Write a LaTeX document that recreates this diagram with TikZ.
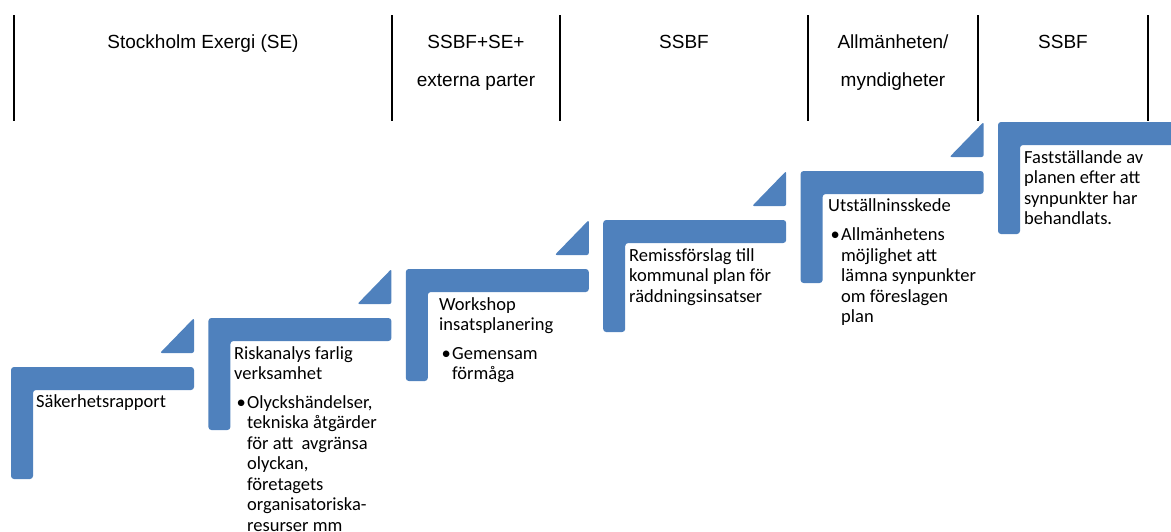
\documentclass[tikz,border=0pt]{standalone}
\usepackage{fontspec}
\setmainfont{Carlito}
\newfontfamily\headfont{Liberation Sans}
\definecolor{stepblue}{HTML}{4F81BD}
\newcommand{\bul}{\makebox[13pt][l]{\hspace{2.5pt}•}}
\newcommand{\ind}{\hspace*{13pt}}

\begin{document}
\begin{tikzpicture}[
    x=1pt, y=-1pt,
    stepbar/.style={fill=stepblue, rounded corners=3pt},
    steptext/.style={anchor=base west, inner sep=0pt, align=left,
        font=\fontsize{18.5}{20.5}\selectfont},
    headtext/.style={anchor=base, inner sep=0pt, align=center,
        font=\headfont\fontsize{19}{38}\selectfont},
    divider/.style={line width=2pt}
]
\useasboundingbox (0,0) rectangle (1171,531);
\clip (0,0) rectangle (1171,531);

\foreach \x in {14,392,560,808,978,1148}
    \draw[divider] (\x,15) -- (\x,121);

\node[headtext] (se) at (203,48.5) {Stockholm Exergi (SE)};
\node[headtext] (ssbfse) at (476,86.5) {SSBF+SE+\\externa parter};
\node[headtext] (ssbfa) at (684,48.5) {SSBF};
\node[headtext] (allm) at (893,86.5) {Allmänheten/\\myndigheter};
\node[headtext] (ssbfb) at (1063,48.5) {SSBF};

\foreach \i in {0,...,5}
    \fill[stepbar] ({11+197.4*\i},{367-49*\i}) -- ++(183,0) -- ++(0,23)
        -- ++(-161,0) -- ++(0,89) -- ++(-22,0) -- cycle;
\foreach \i in {0,...,4}
    \fill[stepbar, rounded corners=2pt] ({194+197.4*\i},{353-49*\i})
        -- ++(-34,0) -- ++(34,-35) -- cycle;

% anchors sit on the last line of each text
\node[steptext] (rapport) at (36,407.5) {Säkerhetsrapport};
\node[steptext] (riskanalys) at (234,531) {Riskanalys farlig\\verksamhet\\[8pt]
    \bul Olyckshändelser,\\\ind tekniska åtgärder\\\ind för att~ avgränsa\\
    \ind olyckan,\\\ind företagets\\\ind organisatoriska-\\\ind resurser mm};
\node[steptext] (workshop) at (439,379.5) {Workshop\\insatsplanering\\[8pt]
    \bul Gemensam\\\ind förmåga};
\node[steptext] (remiss) at (629,302) {Remissförslag till\\kommunal plan för\\räddningsinsatser};
\node[steptext] (utstallning) at (828,322.5) {Utställninsskede\\[9pt]
    \bul Allmänhetens\\\ind möjlighet att\\\ind lämna synpunkter\\\ind om föreslagen\\\ind plan};
\node[steptext] (faststallande) at (1024,224.5) {Fastställande av\\planen efter att\\synpunkter har\\behandlats.};
\end{tikzpicture}
\end{document}
